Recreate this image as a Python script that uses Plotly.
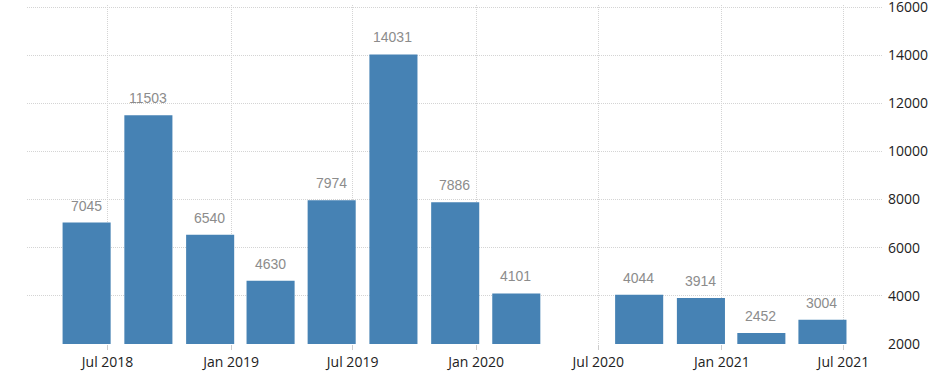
import plotly.graph_objects as go

quarters = ["2018-06-30", "2018-09-30", "2018-12-31", "2019-03-31", "2019-06-30",
            "2019-09-30", "2019-12-31", "2020-03-31", "2020-06-30", "2020-09-30",
            "2020-12-31", "2021-03-31", "2021-06-30"]
values = [7045, 11503, 6540, 4630, 7974, 14031, 7886, 4101, None, 4044, 3914, 2452, 3004]

DAY = 86400000
bar_width = 71.6 * DAY
bar_offset = -66 * DAY

fig = go.Figure()
fig.add_trace(go.Bar(
    x=quarters, y=values,
    width=bar_width, offset=bar_offset,
    marker=dict(color="#4682b4", line=dict(width=0)),
    hoverinfo="skip",
))

for q, v in zip(quarters, values):
    if v is None:
        continue
    fig.add_annotation(
        x=q, y=v, text=str(v), showarrow=False,
        xshift=-31 * 0.6706, yanchor="bottom", yshift=7,
        font=dict(family="Liberation Sans, Arial, sans-serif", size=14, color="#8c8c8c"),
    )

grid = "#d4d4d4"
fig.update_layout(
    width=940, height=373,
    margin=dict(l=27, r=57, t=5, b=29, autoexpand=False),
    paper_bgcolor="white", plot_bgcolor="white",
    showlegend=False,
    font=dict(family="Open Sans, sans-serif", size=14, color="#222222"),
    xaxis=dict(
        type="date", automargin=False,
        range=["2018-03-03", "2021-08-29"],
        tick0="2018-07-01", dtick="M6", tickformat="%b %Y",
        showgrid=True, gridcolor=grid, griddash="1px,1px", gridwidth=1,
        ticks="outside", ticklen=5, tickcolor="#cccccc",
        showline=False, zeroline=False,
        tickfont=dict(size=14, color="#222222"),
    ),
    yaxis=dict(
        side="right", automargin=False,
        range=[2000, 16083], dtick=2000, tick0=0, tickformat="d",
        showgrid=True, gridcolor=grid, griddash="1px,1px", gridwidth=1,
        showline=False, zeroline=False,
        ticks="", ticklabelstandoff=4, ticklabeloverflow="allow",
        tickfont=dict(size=14, color="#222222"),
    ),
)

fig.write_html(
    "out.html",
    config={"displayModeBar": False},
    post_script="document.body.style.margin='0';",
)
